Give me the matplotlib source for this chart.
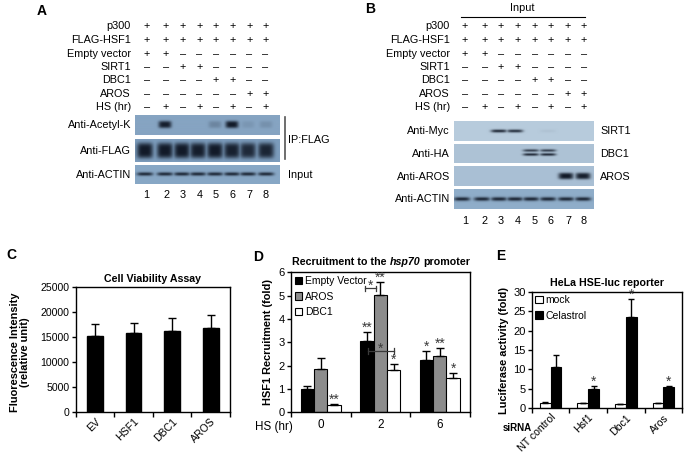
import numpy as np
import matplotlib
matplotlib.use('Agg')
import matplotlib.pyplot as plt
from matplotlib.colors import LinearSegmentedColormap

plt.rcParams['font.family'] = ['Liberation Sans', 'DejaVu Sans']
plt.rcParams['axes.linewidth'] = 1.0

# ---------------- data ----------------
row_labels = ['p300', 'FLAG-HSF1', 'Empty vector', 'SIRT1', 'DBC1', 'AROS', 'HS (hr)']
row_signs = ['++++++++', '++++++++', '++------', '--++----',
             '----++--', '------++', '-+-+-+-+']
lane_numbers = ['1', '2', '3', '4', '5', '6', '7', '8']

a_blot_labels = ['Anti-Acetyl-K', 'Anti-FLAG', 'Anti-ACTIN']
a_acetyl = [0.0, 0.97, 0.0, 0.0, 0.22, 1.0, 0.1, 0.14]
a_flag = [1.0, 1.0, 1.0, 0.97, 1.0, 0.95, 0.88, 0.92]
a_actin = [0.9, 0.9, 0.9, 0.9, 0.9, 0.9, 0.9, 0.9]

b_blot_labels = ['Anti-Myc', 'Anti-HA', 'Anti-AROS', 'Anti-ACTIN']
b_blot_targets = ['SIRT1', 'DBC1', 'AROS', '']
b_myc = [0.0, 0.0, 0.92, 0.88, 0.0, 0.05, 0.0, 0.0]
b_ha = [0.0, 0.0, 0.0, 0.0, 0.92, 0.92, 0.0, 0.0]
b_aros = [0.0, 0.0, 0.0, 0.0, 0.0, 0.0, 1.0, 0.97]
b_actin = [0.92, 0.92, 0.92, 0.92, 0.92, 0.92, 0.92, 0.92]

c_cats = ['EV', 'HSF1', 'DBC1', 'AROS']
c_vals = [15350, 15870, 16270, 16800]
c_errs = [2320, 2060, 2660, 2670]

d_groups = ['0', '2', '6']
d_series = ['Empty Vector', 'AROS', 'DBC1']
d_ev = [1.00, 3.06, 2.24]
d_aros = [1.86, 5.03, 2.43]
d_dbc1 = [0.31, 1.81, 1.49]
d_ev_err = [0.14, 0.40, 0.40]
d_aros_err = [0.48, 0.57, 0.31]
d_dbc1_err = [0.03, 0.28, 0.18]
d_stars = [['', '**', '*'], ['', '**', '**'], ['**', '*', '*']]

e_cats = ['NT control', 'Hsf1', 'Dbc1', 'Aros']
e_series = ['mock', 'Celastrol']
e_mock = [1.3, 1.3, 1.15, 1.3]
e_mock_err = [0.2, 0.15, 0.02, 0.15]
e_cel = [10.5, 4.9, 23.4, 5.6]
e_cel_err = [3.2, 0.85, 4.7, 0.15]
e_stars = ['', '*', '*', '*']

# ---------------- figure ----------------
W, H = 686, 462
fig = plt.figure(figsize=(W / 100, H / 100), dpi=100)


def add_ax(x0, y0, x1, y1):
    return fig.add_axes([x0 / W, 1 - y1 / H, (x1 - x0) / W, (y1 - y0) / H])


ov = fig.add_axes([0, 0, 1, 1])
ov.set_xlim(0, W)
ov.set_ylim(H, 0)
ov.axis('off')

FS = 7.8
DARK = '#121a28'
STAR = '#3a3a3a'


def sign(ch):
    return '+' if ch == '+' else '\u2013'


def draw_blot(box, lane_x, vals, bg, bw, bh, offsets=(0.0,), rel=(1.0,), py=2):
    x0, y0, x1, y1 = box
    ax = add_ax(x0, y0, x1, y1)
    res = 4
    nx, ny = int((x1 - x0) * res), int((y1 - y0) * res)
    xs = x0 + (np.arange(nx) + 0.5) / res
    ys = y0 + (np.arange(ny) + 0.5) / res
    X, Y = np.meshgrid(xs, ys)
    I = np.zeros_like(X)
    yc = (y0 + y1) / 2
    for lx, v in zip(lane_x, vals):
        fx = np.exp(-np.abs((X - lx) / (bw / 2)) ** 4)
        for off, rr in zip(offsets, rel):
            fy = np.exp(-np.abs((Y - (yc + off)) / (bh / 2)) ** py)
            I = np.maximum(I, v * rr * fx * fy)
    cmap = LinearSegmentedColormap.from_list('blot', [bg, DARK])
    ax.imshow(np.clip(I, 0, 1), cmap=cmap, vmin=0, vmax=1,
              extent=(x0, x1, y1, y0), aspect='auto', interpolation='bilinear')
    ax.set_xlim(x0, x1)
    ax.set_ylim(y1, y0)
    ax.axis('off')
    return ax


row_y = [26, 40, 54, 67, 80, 94, 107]

# ---------------- Panel A ----------------
ov.text(42, 11, 'A', fontsize=10, fontweight='bold', ha='center', va='center')
laneA = [146.5, 166, 182.5, 199.5, 216, 233, 249.5, 265.5]
for lbl, sg, y in zip(row_labels, row_signs, row_y):
    ov.text(131, y, lbl, fontsize=FS, ha='right', va='center')
    for lx, ch in zip(laneA, sg):
        ov.text(lx, y, sign(ch), fontsize=FS, ha='center', va='center')

bandA = [145, 165, 182, 198, 215, 232, 248, 266]
draw_blot((135, 115, 280, 135.5), bandA, a_acetyl, '#86a4c2', 13, 7, py=3)
draw_blot((135, 139, 280, 161.5), bandA, a_flag, '#7c9cbc', 16, 15, py=4)
draw_blot((135, 164.5, 280, 184.5), bandA, a_actin, '#88a7c5', 16, 3.5)
for lbl, y in zip(a_blot_labels, [125.5, 150.5, 174.5]):
    ov.text(131, y, lbl, fontsize=FS, ha='right', va='center')
ov.plot([284.5, 284.5], [117, 159], color='#555555', lw=1.2)
ov.text(288, 140, 'IP:FLAG', fontsize=FS, ha='left', va='center')
ov.text(288, 175, 'Input', fontsize=FS, ha='left', va='center')
for lx, n in zip(laneA, lane_numbers):
    ov.text(lx, 195, n, fontsize=FS, ha='center', va='center')

# ---------------- Panel B ----------------
ov.text(370, 9, 'B', fontsize=10, fontweight='bold', ha='center', va='center')
ov.text(522, 8, 'Input', fontsize=FS, ha='center', va='center')
ov.plot([461, 585], [17, 17], color='black', lw=0.8)
laneB = [465, 484.5, 501, 518, 535, 551, 568, 584]
for lbl, sg, y in zip(row_labels, row_signs, row_y):
    ov.text(450, y, lbl, fontsize=FS, ha='right', va='center')
    for lx, ch in zip(laneB, sg):
        ov.text(lx, y, sign(ch), fontsize=FS, ha='center', va='center')

bandB = [462, 482, 499, 515, 531, 548, 566, 583]
draw_blot((454, 121, 594, 141), bandB, b_myc, '#b7cbdc', 16, 3.0)
draw_blot((454, 143.5, 594, 163.5), bandB, b_ha, '#aec3d6', 16, 2.6,
          offsets=(-2.5, 1.5), rel=(0.85, 1.0))
draw_blot((454, 166, 594, 186), bandB, b_aros, '#a9bfd4', 15, 6.5, py=3)
draw_blot((454, 189, 594, 209), bandB, b_actin, '#8fadc9', 16, 3.8)
for lbl, tgt, y in zip(b_blot_labels, b_blot_targets, [131, 154, 177, 199]):
    ov.text(450, y, lbl, fontsize=FS, ha='right', va='center')
    ov.text(600, y, tgt, fontsize=FS, ha='left', va='center')
for lx, n in zip(laneB, lane_numbers):
    ov.text(lx, 221, n, fontsize=FS, ha='center', va='center')

TL = 7.6  # tick label size


def style_box(ax, ncat):
    ax.set_xlim(-0.5, ncat - 0.5)
    ax.tick_params(axis='y', direction='out', length=3, width=1, labelsize=TL, pad=1.5)
    ax.tick_params(axis='x', which='major', length=0, labelsize=TL, pad=3)
    ax.set_xticks(np.arange(ncat + 1) - 0.5, minor=True)
    ax.tick_params(axis='x', which='minor', direction='out', length=3.5, width=1)
    ax.set_xticks(np.arange(ncat))


# ---------------- Panel C ----------------
ov.text(11, 255, 'C', fontsize=10, fontweight='bold', ha='center', va='center')
axC = add_ax(75.7, 287.3, 230, 412.3)
xc = np.arange(len(c_cats))
axC.bar(xc, c_vals, width=0.41, color='black', edgecolor='black',
        yerr=[np.zeros(len(c_vals)), c_errs], capsize=2.8,
        error_kw=dict(elinewidth=1, capthick=1, ecolor='black'))
style_box(axC, len(c_cats))
axC.set_ylim(0, 25000)
axC.set_yticks(np.arange(0, 25001, 5000))
axC.set_xticklabels(c_cats, rotation=45, ha='right', va='top', rotation_mode='anchor')
axC.set_title('Cell Viability Assay', fontsize=7.7, fontweight='bold', pad=4)
ov.text(20, 352, 'Fluorescence Intensity\n(relative unit)', fontsize=7.9,
        fontweight='bold', rotation=90, ha='center', va='center',
        multialignment='center', linespacing=1.05)

# ---------------- Panel D ----------------
ov.text(258, 257, 'D', fontsize=10, fontweight='bold', ha='center', va='center')
axD = add_ax(291, 272.3, 469.5, 412.3)
xd = np.arange(len(d_groups))
bw = 0.226
d_vals = [d_ev, d_aros, d_dbc1]
d_errs = [d_ev_err, d_aros_err, d_dbc1_err]
d_cols = ['black', '#8c8c8c', 'white']
for k in range(3):
    xs = xd + (k - 1) * bw
    axD.bar(xs, d_vals[k], width=bw, color=d_cols[k], edgecolor='black', linewidth=0.8,
            yerr=[np.zeros(3), d_errs[k]], capsize=2.8, label=d_series[k],
            error_kw=dict(elinewidth=1, capthick=1, ecolor='black'))
    for xi, v, e, st in zip(xs, d_vals[k], d_errs[k], d_stars[k]):
        if st:
            axD.text(xi, v + e - 0.12, st, fontsize=10, ha='center', va='bottom', color=STAR)
style_box(axD, 3)
axD.set_ylim(0, 6)
axD.set_yticks(np.arange(0, 7, 1))
axD.set_xticklabels(d_groups)
axD.tick_params(axis='x', which='major', pad=5, labelsize=8.4)
axD.tick_params(axis='y', labelsize=8)
axD.set_ylabel('HSF1 Recruitment (fold)', fontsize=7.9, fontweight='bold', labelpad=4)
# significance brackets (between bars of the 2 h group)
g = 1
for (xa, xb, yb) in [(g - bw - 0.03, g - 0.07, 5.31), (g - bw + 0.02, g + bw, 2.63)]:
    axD.plot([xa, xb], [yb, yb], color=STAR, lw=0.9)
    axD.plot([xa, xa], [yb - 0.12, yb + 0.12], color=STAR, lw=0.9)
    axD.plot([xb, xb], [yb - 0.12, yb + 0.12], color=STAR, lw=0.9)
    axD.text((xa + xb) / 2, yb - 0.2, '*', fontsize=10, ha='center', va='bottom', color=STAR)
axD.legend(loc='upper left', fontsize=7.5, frameon=False, handlelength=0.7,
           handleheight=0.7, handletextpad=0.25, labelspacing=0.5,
           borderaxespad=0.15, borderpad=0.25)
ov.text(293, 427, 'HS (hr)', fontsize=8.4, ha='right', va='center')

# D title with italic gene name
fig.canvas.draw()
rend = fig.canvas.get_renderer()
TFS = 7.7
parts = [('Recruitment to the', 'normal'), ('hsp70', 'italic'), ('promoter', 'normal')]
ws = []
for s, stl in parts:
    t = ov.text(0, 0, s, fontsize=TFS, fontweight='bold', style=stl)
    ws.append(t.get_window_extent(renderer=rend).width)
    t.remove()
space = 0.278 * TFS * 100 / 72
total = sum(ws) + 2 * space
xx = 381.5 - total / 2
for (s, stl), w in zip(parts, ws):
    ov.text(xx, 262, s, fontsize=TFS, fontweight='bold', style=stl, ha='left', va='center')
    xx += w + space

# ---------------- Panel E ----------------
ov.text(501, 256, 'E', fontsize=10, fontweight='bold', ha='center', va='center')
axE = add_ax(531.7, 291.7, 682.3, 408.3)
xe = np.arange(len(e_cats))
ew = 0.29
axE.bar(xe - ew / 2, e_mock, width=ew, color='white', edgecolor='black', linewidth=0.8,
        yerr=[np.zeros(4), e_mock_err], capsize=2.5, label=e_series[0],
        error_kw=dict(elinewidth=1, capthick=1, ecolor='black'))
axE.bar(xe + ew / 2, e_cel, width=ew, color='black', edgecolor='black', linewidth=0.8,
        yerr=[np.zeros(4), e_cel_err], capsize=2.5, label=e_series[1],
        error_kw=dict(elinewidth=1, capthick=1, ecolor='black'))
for xi, v, e, st in zip(xe + ew / 2, e_cel, e_cel_err, e_stars):
    if st:
        axE.text(xi, v + e - 0.6, st, fontsize=10, ha='center', va='bottom', color=STAR)
style_box(axE, 4)
axE.set_ylim(0, 30)
axE.set_yticks(np.arange(0, 31, 5))
axE.tick_params(axis='y', labelsize=8)
axE.set_xticklabels(e_cats, rotation=45, ha='right', va='top', rotation_mode='anchor')
axE.set_title('HeLa HSE-luc reporter', fontsize=7.7, fontweight='bold', pad=4)
axE.set_ylabel('Luciferase activity (fold)', fontsize=7.9, fontweight='bold', labelpad=3)
axE.legend(loc='upper left', fontsize=7.5, frameon=False, handlelength=0.7,
           handleheight=0.7, handletextpad=0.25, labelspacing=0.5,
           borderaxespad=0.1, borderpad=0.25)
ov.text(517, 428, 'siRNA', fontsize=7, fontweight='bold', ha='center', va='center')

fig.savefig('out.png', dpi=100)
